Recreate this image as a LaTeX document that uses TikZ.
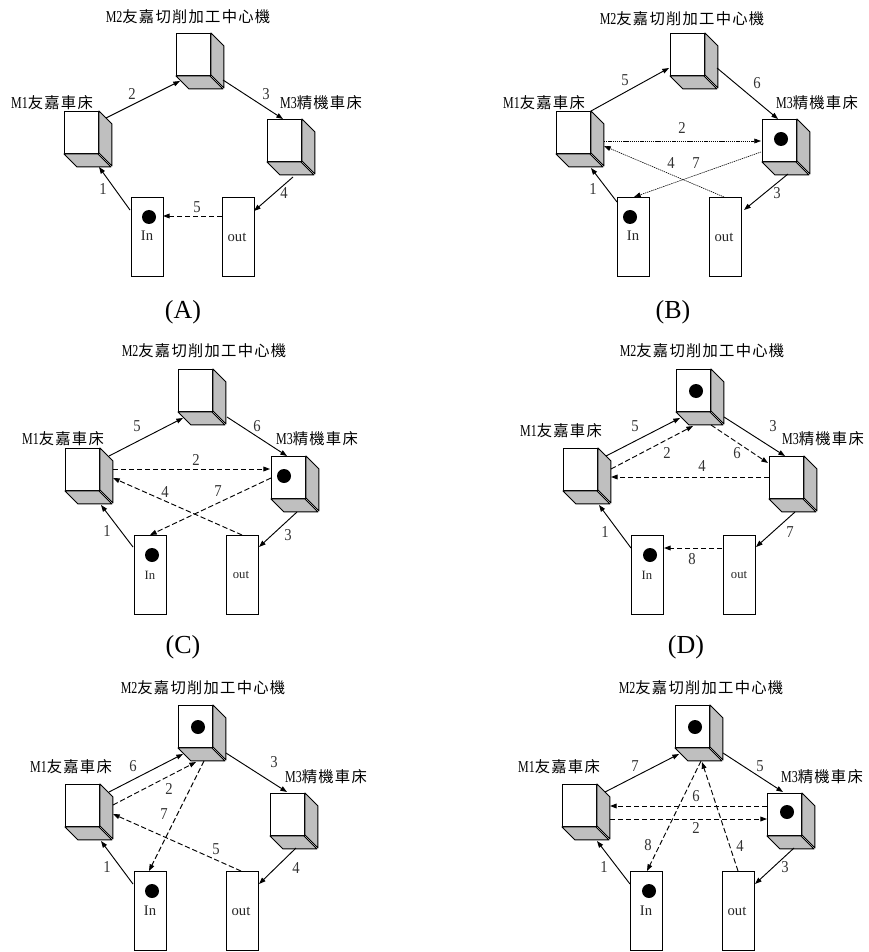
\documentclass[tikz,border=0pt]{standalone}
\usepackage{fontspec}
\setmainfont{Liberation Serif}
\newfontfamily\cjk{Noto Sans CJK TC}[LetterSpace=8]
\newfontfamily\narrow{Liberation Serif}[FakeStretch=0.72]
\newfontfamily\digits{Liberation Serif}[FakeStretch=0.88]
\usepackage{tikz}
\usetikzlibrary{positioning,arrows.meta}
\tikzset{
  % --- machines and buffers ---------------------------------------------------
  front/.style={rectangle,draw,fill=white,line width=0.7pt,anchor=north west,
                inner sep=0pt,minimum width=25.5pt,minimum height=31.5pt},
  side/.style={draw,fill=black!25,line width=0.7pt,line join=round},
  buffer/.style={rectangle,draw,fill=white,line width=0.7pt,anchor=north west,
                 inner sep=0pt,minimum width=24pt,minimum height=59pt},
  token/.style={circle,fill=black,inner sep=0pt,minimum size=10.5pt},
  % --- transfers --------------------------------------------------------------
  flow/.style={-{Triangle[length=5pt,width=3.6pt]},line width=0.7pt},
  empty/.style={flow,dash pattern=on 4pt off 2pt},
  fine/.style={flow,line width=0.45pt,dash pattern=on 1pt off 0.6pt},
  % --- texts ------------------------------------------------------------------
  machlab/.style={font=\fontsize{12.5}{14}\narrow,inner sep=0pt},
  portlab/.style={font=\fontsize{11}{12}\selectfont,inner sep=0pt,text=black!85},
  portsm/.style={portlab,font=\fontsize{9.5}{11}\selectfont},
  numlab/.style={font=\fontsize{12.5}{14}\digits,inner sep=0pt,text=black!80},
  caplab/.style={font=\fontsize{19.5}{22}\selectfont,inner sep=0pt},
}
% front face as a named node, the two shaded faces behind it
\newcommand{\machine}[3]{%
  \node[front] (#1) at (#2,#3) {};
  \draw[side] (#1.north east) -- ++(13,13) -- ++(0,42) -- ++(-13,-13) -- cycle;
  \draw[side] (#1.south west) -- ++(13,13) -- ++(34,0) -- ++(-13,-13) -- cycle;
}
\newcommand{\mtwo}{M2{\fontsize{11.5}{12}\cjk 友嘉切削加工中心機}}
\newcommand{\mone}{M1{\fontsize{11.5}{12}\cjk 友嘉車床}}
\newcommand{\mthree}{M3{\fontsize{11.5}{12}\cjk 精機車床}}
\begin{document}
\begin{tikzpicture}[x=0.75pt, y=-0.75pt]
  \useasboundingbox (0,0) rectangle (868,952);

  % --- (A) --------------------------------------------------------------------
  \machine{m2a}{176}{33}
  \machine{m1a}{64}{111}
  \machine{m3a}{267}{119}
  \node[buffer] (ina) at (131,197) {};
  \node[buffer] (outa) at (222,197) {};
  \node[token] (ta) at (149,217) {};
  \node[portlab] (lina) at (147,236) {In};
  \node[portlab] (louta) at (237,237) {out};
  \node[machlab] (l2a) at (188,17) {\mtwo};
  \node[machlab] (l1a) at (52,103) {\mone};
  \node[machlab] (l3a) at (321,103) {\mthree};
  \node[caplab] (capa) at (183,312) {(A)};
  \draw[flow] ([shift={(-1,13)}]ina.north west) -- ([shift={(35,56)}]m1a.north west);
  \draw[flow] ([shift={(42,7)}]m1a.north west) -- ([shift={(4,48)}]m2a.north west);
  \draw[flow] ([shift={(47,47)}]m2a.north west) -- ([shift={(16,0)}]m3a.north west);
  \draw[flow] ([shift={(26,58)}]m3a.north west) -- ([shift={(32,14)}]outa.north west);
  \draw[empty] ([shift={(0,19)}]outa.north west) -- ([shift={(32,19)}]ina.north west);
  \node[numlab] (a1) at (103,189) {1};
  \node[numlab] (a2) at (132,94) {2};
  \node[numlab] (a3) at (266,94) {3};
  \node[numlab] (a4) at (284,193) {4};
  \node[numlab] (a5) at (197,207) {5};

  % --- (B) --------------------------------------------------------------------
  \machine{m2b}{670}{33}
  \machine{m1b}{556}{111}
  \machine{m3b}{762}{119}
  \node[buffer] (inb) at (617,197) {};
  \node[buffer] (outb) at (709,197) {};
  \node[token] (tb) at (630,217) {};
  \node[token] (sb) at (781,139) {};
  \node[portlab] (linb) at (633,236) {In};
  \node[portlab] (loutb) at (724,237) {out};
  \node[machlab] (l2b) at (682,19) {\mtwo};
  \node[machlab] (l1b) at (544,103) {\mone};
  \node[machlab] (l3b) at (817,103) {\mthree};
  \node[caplab] (capb) at (673,312) {(B)};
  \draw[flow] ([shift={(0,5)}]inb.north west) -- ([shift={(35,57)}]m1b.north west);
  \draw[flow] ([shift={(35,0)}]m1b.north west) -- ([shift={(-1,35)}]m2b.north west);
  \draw[flow] ([shift={(47,35)}]m2b.north west) -- ([shift={(16,0)}]m3b.north west);
  \draw[flow] ([shift={(26,55)}]m3b.north west) -- ([shift={(35,13)}]outb.north west);
  \draw[fine] ([shift={(48,30)}]m1b.north west) -- ([shift={(-1,22)}]m3b.north west);
  \draw[fine] ([shift={(-1,33)}]m3b.north west) -- ([shift={(17,0)}]inb.north west);
  \draw[fine] ([shift={(15,0)}]outb.north west) -- ([shift={(48,35)}]m1b.north west);
  \node[numlab] (b1) at (593,189) {1};
  \node[numlab] (b2) at (682,128) {2};
  \node[numlab] (b3) at (777,193) {3};
  \node[numlab] (b4) at (671,163) {4};
  \node[numlab] (b5) at (625,80) {5};
  \node[numlab] (b6) at (757,83) {6};
  \node[numlab] (b7) at (696,163) {7};

  % --- (C) --------------------------------------------------------------------
  \machine{m2c}{178}{369}
  \machine{m1c}{65}{448}
  \machine{m3c}{271}{456}
  \node[buffer] (inc) at (134,535) {};
  \node[buffer] (outc) at (226,535) {};
  \node[token] (tc) at (152,555) {};
  \node[token] (sc) at (284,476) {};
  \node[portsm] (linc) at (150,575) {In};
  \node[portsm] (loutc) at (241,575) {out};
  \node[machlab] (l2c) at (204,351) {\mtwo};
  \node[machlab] (l1c) at (63,439) {\mone};
  \node[machlab] (l3c) at (317,439) {\mthree};
  \node[caplab] (capc) at (183,647) {(C)};
  \draw[flow] ([shift={(-1,12)}]inc.north west) -- ([shift={(36,57)}]m1c.north west);
  \draw[flow] ([shift={(44,8)}]m1c.north west) -- ([shift={(5,49)}]m2c.north west);
  \draw[flow] ([shift={(49,48)}]m2c.north west) -- ([shift={(16,0)}]m3c.north west);
  \draw[flow] ([shift={(26,56)}]m3c.north west) -- ([shift={(33,12)}]outc.north west);
  \draw[empty] ([shift={(48,21)}]m1c.north west) -- ([shift={(-1,13)}]m3c.north west);
  \draw[empty] ([shift={(0,22)}]m3c.north west) -- ([shift={(16,0)}]inc.north west);
  \draw[empty] ([shift={(16,0)}]outc.north west) -- ([shift={(48,30)}]m1c.north west);
  \node[numlab] (c1) at (107,531) {1};
  \node[numlab] (c2) at (196,460) {2};
  \node[numlab] (c3) at (288,535) {3};
  \node[numlab] (c4) at (165,492) {4};
  \node[numlab] (c5) at (137,426) {5};
  \node[numlab] (c6) at (257,426) {6};
  \node[numlab] (c7) at (218,491) {7};

  % --- (D) --------------------------------------------------------------------
  \machine{m2d}{676}{369}
  \machine{m1d}{563}{448}
  \machine{m3d}{769}{456}
  \node[buffer] (ind) at (631,535) {};
  \node[buffer] (outd) at (723,535) {};
  \node[token] (td) at (650,555) {};
  \node[token] (sd) at (696,391) {};
  \node[portsm] (lind) at (647,575) {In};
  \node[portsm] (loutd) at (739,575) {out};
  \node[machlab] (l2d) at (702,351) {\mtwo};
  \node[machlab] (l1d) at (561,431) {\mone};
  \node[machlab] (l3d) at (823,439) {\mthree};
  \node[caplab] (capd) at (686,647) {(D)};
  \draw[flow] ([shift={(0,13)}]ind.north west) -- ([shift={(36,57)}]m1d.north west);
  \draw[flow] ([shift={(43,8)}]m1d.north west) -- ([shift={(4,49)}]m2d.north west);
  \draw[flow] ([shift={(48,48)}]m2d.north west) -- ([shift={(16,0)}]m3d.north west);
  \draw[flow] ([shift={(26,56)}]m3d.north west) -- ([shift={(33,12)}]outd.north west);
  \draw[empty] ([shift={(48,21)}]m1d.north west) -- ([shift={(17,57)}]m2d.north west);
  \draw[empty] ([shift={(35,56)}]m2d.north west) -- ([shift={(-1,7)}]m3d.north west);
  \draw[empty] ([shift={(0,21)}]m3d.north west) -- ([shift={(48,29)}]m1d.north west);
  \draw[empty] ([shift={(-1,13)}]outd.north west) -- ([shift={(33,13)}]ind.north west);
  \node[numlab] (d1) at (605,532) {1};
  \node[numlab] (d2) at (667,453) {2};
  \node[numlab] (d3) at (773,426) {3};
  \node[numlab] (d4) at (702,466) {4};
  \node[numlab] (d5) at (635,426) {5};
  \node[numlab] (d6) at (737,453) {6};
  \node[numlab] (d7) at (790,532) {7};
  \node[numlab] (d8) at (692,559) {8};

  % --- lower left -------------------------------------------------------------
  \machine{m2e}{178}{705}
  \machine{m1e}{65}{784}
  \machine{m3e}{270}{793}
  \node[buffer] (ine) at (134,871) {};
  \node[buffer] (oute) at (226,871) {};
  \node[token] (te) at (152,891) {};
  \node[token] (se) at (198,727) {};
  \node[portlab] (line) at (150,911) {In};
  \node[portlab] (loute) at (241,911) {out};
  \node[machlab] (l2e) at (203,688) {\mtwo};
  \node[machlab] (l1e) at (71,767) {\mone};
  \node[machlab] (l3e) at (326,777) {\mthree};
  \draw[flow] ([shift={(-1,13)}]ine.north west) -- ([shift={(36,57)}]m1e.north west);
  \draw[flow] ([shift={(44,8)}]m1e.north west) -- ([shift={(5,49)}]m2e.north west);
  \draw[flow] ([shift={(48,48)}]m2e.north west) -- ([shift={(17,-1)}]m3e.north west);
  \draw[flow] ([shift={(26,55)}]m3e.north west) -- ([shift={(33,13)}]oute.north west);
  \draw[empty] ([shift={(48,21)}]m1e.north west) -- ([shift={(18,57)}]m2e.north west);
  \draw[empty] ([shift={(26,56)}]m2e.north west) -- ([shift={(15,0)}]ine.north west);
  \draw[empty] ([shift={(15,0)}]oute.north west) -- ([shift={(48,30)}]m1e.north west);
  \node[numlab] (e1) at (107,867) {1};
  \node[numlab] (e2) at (169,789) {2};
  \node[numlab] (e3) at (274,762) {3};
  \node[numlab] (e4) at (296,868) {4};
  \node[numlab] (e5) at (216,849) {5};
  \node[numlab] (e6) at (133,766) {6};
  \node[numlab] (e7) at (164,814) {7};

  % --- lower right ------------------------------------------------------------
  \machine{m2f}{675}{705}
  \machine{m1f}{562}{784}
  \machine{m3f}{767}{793}
  \node[buffer] (inf) at (630,871) {};
  \node[buffer] (outf) at (722,871) {};
  \node[token] (tf) at (649,891) {};
  \node[token] (sf) at (695,727) {};
  \node[token] (rf) at (787,812) {};
  \node[portlab] (linf) at (646,911) {In};
  \node[portlab] (loutf) at (737,911) {out};
  \node[machlab] (l2f) at (701,688) {\mtwo};
  \node[machlab] (l1f) at (559,767) {\mone};
  \node[machlab] (l3f) at (822,777) {\mthree};
  \draw[flow] ([shift={(0,13)}]inf.north west) -- ([shift={(35,57)}]m1f.north west);
  \draw[flow] ([shift={(43,8)}]m1f.north west) -- ([shift={(4,49)}]m2f.north west);
  \draw[flow] ([shift={(48,48)}]m2f.north west) -- ([shift={(16,-1)}]m3f.north west);
  \draw[flow] ([shift={(27,55)}]m3f.north west) -- ([shift={(33,13)}]outf.north west);
  \draw[empty] ([shift={(0,13)}]m3f.north west) -- ([shift={(48,22)}]m1f.north west);
  \draw[empty] ([shift={(48,35)}]m1f.north west) -- ([shift={(0,26)}]m3f.north west);
  \draw[empty] ([shift={(26,56)}]m2f.north west) -- ([shift={(17,0)}]inf.north west);
  \draw[empty] ([shift={(16,0)}]outf.north west) -- ([shift={(27,57)}]m2f.north west);
  \node[numlab] (f1) at (604,867) {1};
  \node[numlab] (f2) at (696,828) {2};
  \node[numlab] (f3) at (785,867) {3};
  \node[numlab] (f4) at (740,846) {4};
  \node[numlab] (f5) at (760,766) {5};
  \node[numlab] (f6) at (696,796) {6};
  \node[numlab] (f7) at (635,766) {7};
  \node[numlab] (f8) at (648,845) {8};
\end{tikzpicture}
\end{document}
